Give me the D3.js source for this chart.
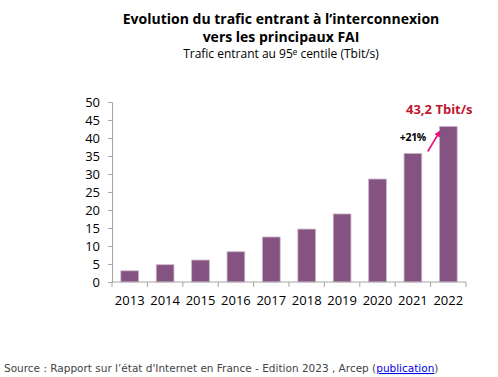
<!DOCTYPE html>
<html>
<head>
<meta charset="utf-8">
<script src="https://cdn.jsdelivr.net/npm/d3@7"></script>
<style>
  body { margin: 0; background: #fff; }
  svg { display: block; }
</style>
</head>
<body>
<script>
  "use strict";

  // Données
  var annees = ["2013", "2014", "2015", "2016", "2017", "2018", "2019", "2020", "2021", "2022"];
  var trafic = [3.1, 4.8, 6.1, 8.4, 12.5, 14.7, 18.9, 28.6, 35.7, 43.2];
  var ticksY = [0, 5, 10, 15, 20, 25, 30, 35, 40, 45, 50];

  var width = 498, height = 377;
  var margin = { top: 102, left: 112, right: 32, bottom: 95 };

  var svg = d3.select("body").append("svg")
    .attr("width", width)
    .attr("height", height);

  var x = d3.scaleBand().domain(annees)
    .range([margin.left, width - margin.right])
    .paddingInner(0.5).paddingOuter(0.25);
  var y = d3.scaleLinear().domain([0, 50])
    .range([height - margin.bottom, margin.top]);

  // Titres
  var titre = svg.append("g")
    .attr("font-family", "'Open Sans', sans-serif")
    .attr("text-anchor", "middle");
  titre.append("text").attr("x", 281).attr("y", 24)
    .attr("font-size", 14).attr("font-weight", "bold")
    .text("Evolution du trafic entrant à l’interconnexion");
  titre.append("text").attr("x", 281).attr("y", 42)
    .attr("font-size", 14).attr("font-weight", "bold")
    .text("vers les principaux FAI");
  titre.append("text").attr("x", 281).attr("y", 58)
    .attr("font-size", 12)
    .text("Trafic entrant au 95ᵉ centile (Tbit/s)");

  // Barres
  svg.append("g").selectAll("rect")
    .data(trafic)
    .join("rect")
    .attr("x", function(d, i) { return x(annees[i]); })
    .attr("y", function(d) { return y(d); })
    .attr("width", x.bandwidth())
    .attr("height", function(d) { return y(0) - y(d); })
    .attr("fill", "#855381")
    .attr("stroke", "#c9b3c6")
    .attr("stroke-width", 0.8);

  // Axe Y
  var axeY = svg.append("g")
    .attr("transform", "translate(" + margin.left + ",0)")
    .call(d3.axisLeft(y).tickValues(ticksY).tickSize(4).tickPadding(8));
  axeY.select(".domain").attr("stroke", "#a6a6a6");
  axeY.selectAll(".tick line").attr("stroke", "#a6a6a6");
  axeY.selectAll("text").attr("font-family", "'Open Sans', sans-serif")
    .attr("font-size", 13).attr("fill", "#000");

  // Axe X
  var step = x.step();
  var x0 = margin.left, x1 = width - margin.right;
  var axeX = svg.append("g");
  axeX.append("line")
    .attr("x1", x0).attr("x2", x1)
    .attr("y1", y(0)).attr("y2", y(0))
    .attr("stroke", "#a6a6a6");
  axeX.selectAll(".sep")
    .data(d3.range(annees.length + 1))
    .join("line")
    .attr("x1", function(i) { return x0 + i * step; })
    .attr("x2", function(i) { return x0 + i * step; })
    .attr("y1", y(0)).attr("y2", y(0) + 5)
    .attr("stroke", "#a6a6a6");
  axeX.selectAll("text")
    .data(annees)
    .join("text")
    .attr("x", function(d) { return x(d) + x.bandwidth() / 2; })
    .attr("y", y(0) + 23)
    .attr("text-anchor", "middle")
    .attr("font-family", "'Open Sans', sans-serif")
    .attr("font-size", 13)
    .text(function(d) { return d; });

  // Annotations
  var last = annees.length - 1;
  svg.append("text")
    .attr("x", x(annees[last]) + x.bandwidth() / 2 - 9)
    .attr("y", y(trafic[last]) - 12)
    .attr("text-anchor", "middle")
    .attr("font-family", "'Open Sans', sans-serif")
    .attr("font-size", 13).attr("font-weight", "bold")
    .attr("fill", "#c0172f")
    .text("43,2 Tbit/s");

  svg.append("text")
    .attr("x", x(annees[last - 1]) + x.bandwidth() / 2)
    .attr("y", y(trafic[last - 1]) - 12)
    .attr("text-anchor", "middle")
    .attr("font-family", "'Open Sans', sans-serif")
    .attr("font-size", 10.5).attr("font-weight", "bold")
    .attr("letter-spacing", -0.3)
    .text("+21%");

  svg.append("defs").append("marker")
    .attr("id", "fleche")
    .attr("viewBox", "0 0 10 10")
    .attr("refX", 8).attr("refY", 5)
    .attr("markerWidth", 4).attr("markerHeight", 4)
    .attr("orient", "auto")
    .append("path").attr("d", "M0,0 L10,5 L0,10 z").attr("fill", "#e0157a");

  var ax = x(annees[last - 1]) + x.bandwidth() + 6;
  svg.append("line")
    .attr("x1", ax).attr("y1", y(trafic[last - 1]) - 2)
    .attr("x2", ax + 12).attr("y2", y(trafic[last]) + 5)
    .attr("stroke", "#e0157a").attr("stroke-width", 1.6)
    .attr("marker-end", "url(#fleche)");

  // Source
  var source = svg.append("text")
    .attr("x", 4).attr("y", 372)
    .attr("font-family", "'DejaVu Sans', Verdana, sans-serif")
    .attr("font-size", 10.5)
    .attr("fill", "#444");
  source.append("tspan").text("Source : Rapport sur l’état d'Internet en France - Edition 2023 , Arcep (");
  source.append("tspan").attr("fill", "#0000ee").attr("text-decoration", "underline").text("publication");
  source.append("tspan").text(")");
</script>
</body>
</html>
